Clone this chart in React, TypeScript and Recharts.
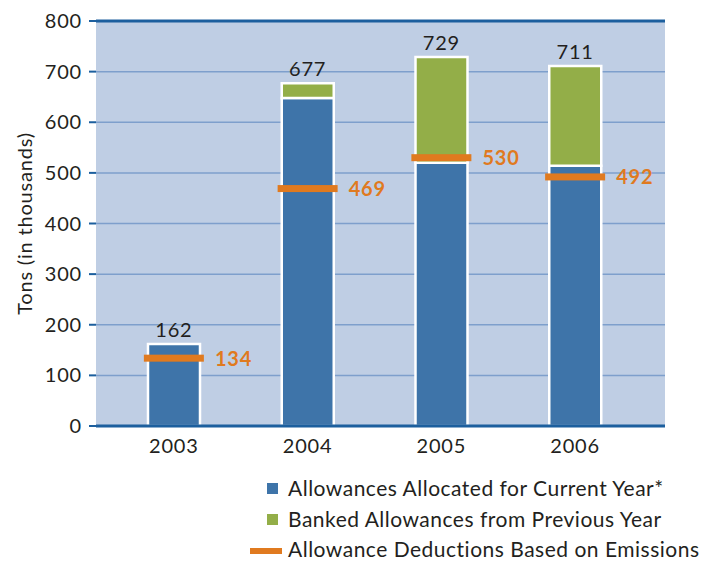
import React from 'react'
import {
  ComposedChart,
  Bar,
  Scatter,
  XAxis,
  YAxis,
  CartesianGrid,
  ReferenceLine
} from 'recharts'

const years = ['2003', '2004', '2005', '2006']
const allocated = [162, 648, 520, 514]
const banked = [0, 29, 209, 197]
const deductions = [134, 469, 530, 492]
const yTicks = [0, 100, 200, 300, 400, 500, 600, 700, 800]

const BLUE = '#3E74A9'
const GREEN = '#93AE48'
const ORANGE = '#E07A1F'
const DARK_BLUE = '#1C5F9E'
const TEXT = '#231f20'
const FONT = 'Lato, "Open Sans", sans-serif'

const data = years.map((year, i) => ({
  year,
  allocated: allocated[i],
  banked: banked[i],
  total: allocated[i] + banked[i],
  deduction: deductions[i]
}))

// orange bar across the column + value to its right
function DeductionMark(props: any) {
  const { cx, cy, payload } = props
  if (cx == null || cy == null) return null
  return (
    <g>
      <rect x={cx - 30} y={cy - 3.5} width={60} height={7} fill={ORANGE} />
      <text
        x={cx + 41}
        y={cy + 7.5}
        fill={ORANGE}
        fontSize={20}
        fontWeight={700}
        letterSpacing={0.8}
        fontFamily={FONT}
      >
        {payload.deduction}
      </text>
    </g>
  )
}

// total value above each stacked column
function TotalLabel(props: any) {
  const { cx, cy, payload } = props
  if (cx == null || cy == null) return null
  return (
    <text
      x={cx}
      y={cy - 7}
      textAnchor="middle"
      fill={TEXT}
      fontSize={20}
      letterSpacing={0.8}
      fontFamily={FONT}
    >
      {payload.total}
    </text>
  )
}

function LegendRow({ top, kind, text }: { top: number; kind: 'blue' | 'green' | 'line'; text: string }) {
  return (
    <div style={{ position: 'absolute', left: 0, top, height: 24, width: 708 }}>
      {kind === 'line' ? (
        <div style={{ position: 'absolute', left: 250, top: 11, width: 32, height: 6, background: ORANGE }} />
      ) : (
        <div
          style={{
            position: 'absolute',
            left: 267,
            top: 7,
            width: 11,
            height: 11,
            background: kind === 'blue' ? BLUE : GREEN
          }}
        />
      )}
      <div
        style={{
          position: 'absolute',
          left: 288,
          top: 0,
          fontSize: 21,
          lineHeight: '24px',
          letterSpacing: 0.5,
          color: TEXT,
          fontFamily: FONT,
          whiteSpace: 'nowrap'
        }}
      >
        {text}
      </div>
    </div>
  )
}

export default function App() {
  const tickStyle = { fill: TEXT, fontSize: 20, fontFamily: FONT, letterSpacing: 0.8 }
  return (
    <div style={{ position: 'absolute', left: 0, top: 0, width: 708, height: 561, background: '#fff', overflow: 'hidden' }}>
      <ComposedChart
        width={708}
        height={470}
        data={data}
        margin={{ top: 21, right: 43, left: 0, bottom: 0 }}
        style={{ fontFamily: FONT }}
      >
        <CartesianGrid
          vertical={false}
          fill="#BFCEE4"
          fillOpacity={1}
          stroke="#7E9FCC"
          strokeWidth={1.5}
        />
        <XAxis
          dataKey="year"
          height={44}
          padding={{ left: 11, right: 23 }}
          axisLine={{ stroke: DARK_BLUE, strokeWidth: 3 }}
          tickLine={false}
          tick={tickStyle}
          tickMargin={7}
        />
        <YAxis
          width={96}
          domain={[0, 800]}
          ticks={yTicks}
          interval={0}
          axisLine={false}
          tickLine={{ stroke: DARK_BLUE, strokeWidth: 2 }}
          tickSize={7}
          tickMargin={7}
          tick={tickStyle}
          label={{
            value: 'Tons (in thousands)',
            angle: -90,
            position: 'insideLeft',
            offset: 25,
            style: { textAnchor: 'middle', fill: TEXT, fontSize: 20, letterSpacing: 0.8, fontFamily: FONT }
          }}
        />
        <ReferenceLine y={800} stroke={DARK_BLUE} strokeWidth={3} />
        <Bar
          dataKey="allocated"
          stackId="a"
          fill={BLUE}
          stroke="#fff"
          strokeWidth={2.5}
          barSize={52}
          isAnimationActive={false}
        />
        <Bar
          dataKey="banked"
          stackId="a"
          fill={GREEN}
          stroke="#fff"
          strokeWidth={2.5}
          barSize={52}
          isAnimationActive={false}
        />
        <Scatter dataKey="total" shape={<TotalLabel />} isAnimationActive={false} />
        <Scatter dataKey="deduction" shape={<DeductionMark />} isAnimationActive={false} />
      </ComposedChart>
      <LegendRow top={476} kind="blue" text="Allowances Allocated for Current Year*" />
      <LegendRow top={507} kind="green" text="Banked Allowances from Previous Year" />
      <LegendRow top={537} kind="line" text="Allowance Deductions Based on Emissions" />
    </div>
  )
}
